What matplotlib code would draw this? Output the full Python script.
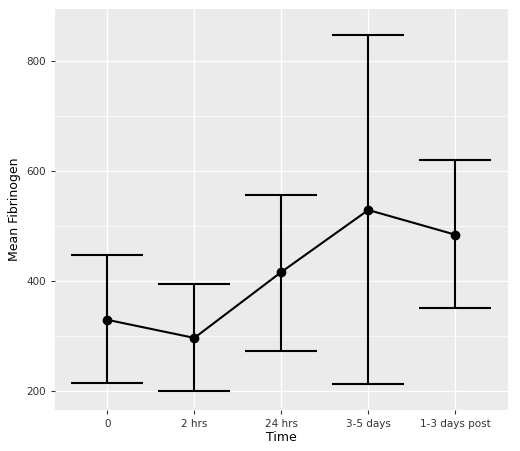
import numpy as np
import matplotlib.pyplot as plt

times = ["0", "2 hrs", "24 hrs", "3-5 days", "1-3 days post"]
means = [329, 296, 416, 529, 484]
upper = [447, 395, 556, 847, 620]
lower = [214, 200, 273, 213, 351]

fig = plt.figure(figsize=(5.2, 4.51), dpi=100)
ax = fig.add_axes([0.106, 0.09, 0.87, 0.89])
ax.set_facecolor("#EBEBEB")
x = np.arange(len(times))
means = np.array(means)
err = [means - np.array(lower), np.array(upper) - means]
ax.errorbar(x, means, yerr=err, fmt="o-", color="black", ms=6, lw=1.5,
            capsize=26, capthick=1.5, elinewidth=1.5)
ax.set_xticks(x)
ax.set_xticklabels(times)
ax.set_yticks([200, 400, 600, 800])
ax.set_yticks([300, 500, 700], minor=True)
ax.set_xlim(-0.6, 4.6)
ax.set_ylim(164, 895)
ax.grid(True, which="major", color="white", lw=1.0)
ax.grid(True, which="minor", color="white", lw=0.5)
ax.set_axisbelow(True)
for s in ax.spines.values():
    s.set_visible(False)
ax.tick_params(axis="both", which="both", colors="#333333", labelsize=7.5, length=3)
ax.tick_params(which="minor", length=0)
ax.set_xlabel("Time", fontsize=9, labelpad=1)
ax.set_ylabel("Mean Fibrinogen", fontsize=9)
fig.savefig("out.png", dpi=100)
